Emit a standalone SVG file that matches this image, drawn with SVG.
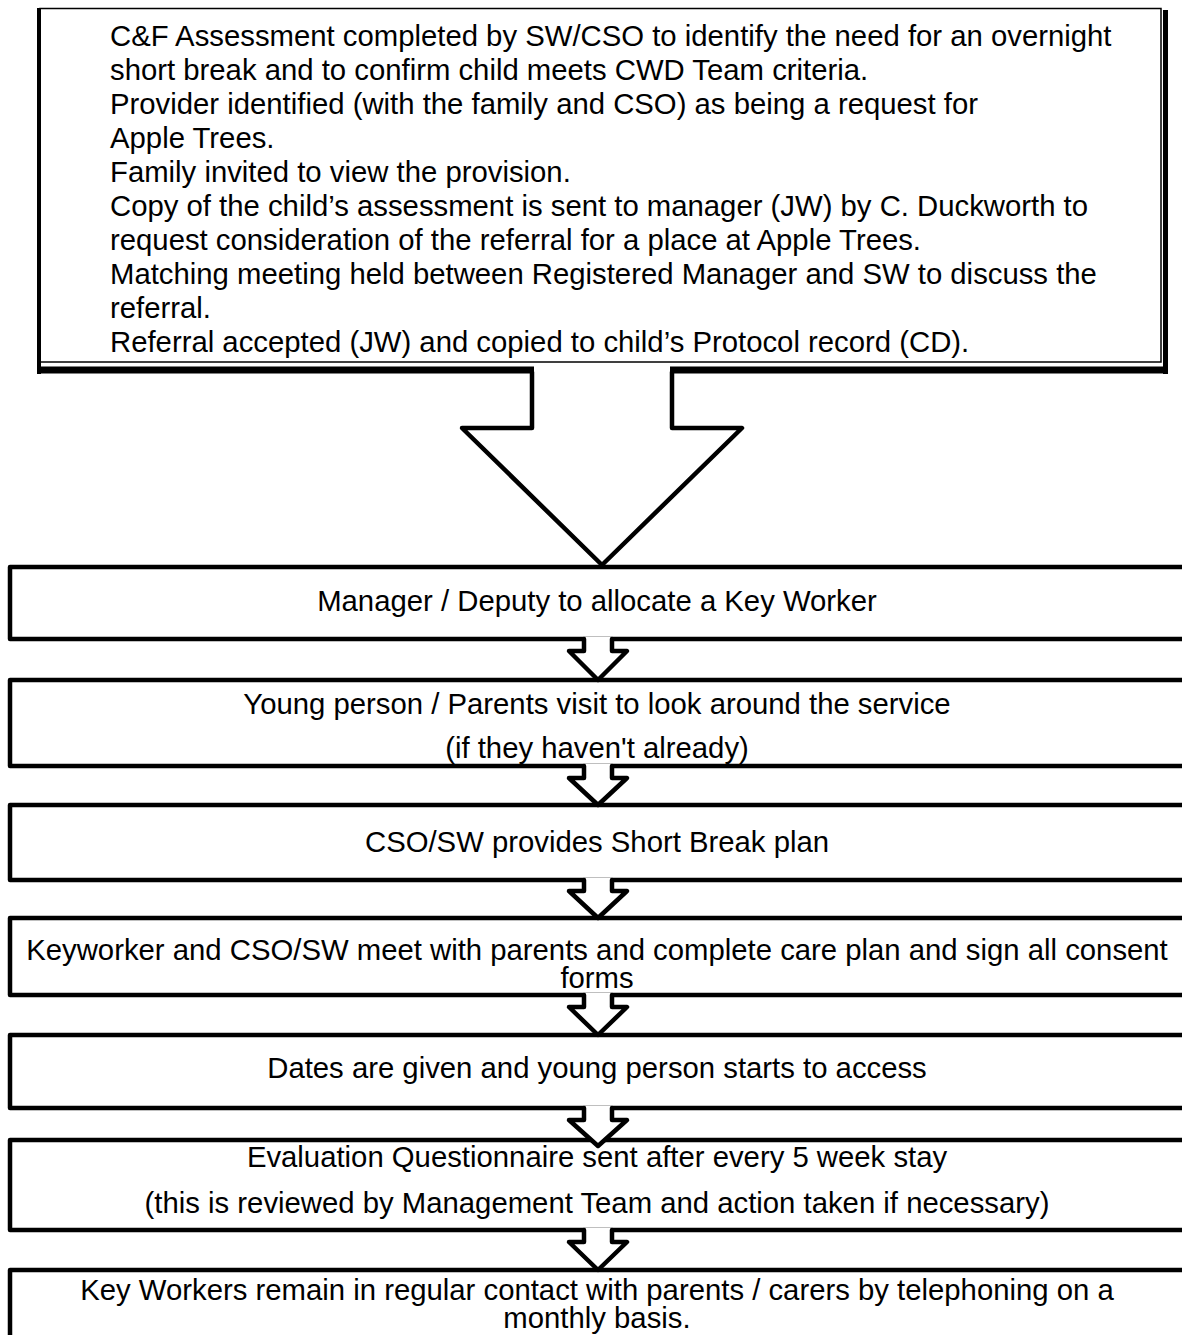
<svg xmlns="http://www.w3.org/2000/svg" width="1182" height="1335" viewBox="0 0 1182 1335">
<style>
text{font-family:"Liberation Sans",Arial,sans-serif;font-size:29.3px;fill:#000}
.c{text-anchor:middle}
.box{fill:#fff;stroke:#000;stroke-width:4.5;stroke-linejoin:round}
.arr{fill:none;stroke:#000;stroke-width:4.5;stroke-linejoin:round;stroke-linecap:round}
.cover{fill:#fff;stroke:none}
</style>
<rect width="1182" height="1335" fill="#fff"/>
<g id="node-top">
<rect x="40" y="8.5" width="1121" height="353.5" fill="#fff" stroke="#000" stroke-width="1.5"/>
<line x1="39" y1="8" x2="39" y2="374" stroke="#000" stroke-width="4"/>
<line x1="1165.5" y1="10" x2="1165.5" y2="374" stroke="#000" stroke-width="5"/>
<line x1="37" y1="370" x2="1168" y2="370" stroke="#000" stroke-width="7"/>
<text x="110" y="46">C&amp;F Assessment completed by SW/CSO to identify the need for an overnight</text>
<text x="110" y="80">short break and to confirm child meets CWD Team criteria.</text>
<text x="110" y="114">Provider identified (with the family and CSO) as being a request for</text>
<text x="110" y="148">Apple Trees.</text>
<text x="110" y="182">Family invited to view the provision.</text>
<text x="110" y="216">Copy of the child’s assessment is sent to manager (JW) by C. Duckworth to</text>
<text x="110" y="250">request consideration of the referral for a place at Apple Trees.</text>
<text x="110" y="284">Matching meeting held between Registered Manager and SW to discuss the</text>
<text x="110" y="318">referral.</text>
<text x="110" y="352">Referral accepted (JW) and copied to child’s Protocol record (CD).</text>
</g>
<g id="node-1">
<rect class="box" x="10" y="567" width="1180" height="72"/>
<text class="c" x="597" y="611">Manager / Deputy to allocate a Key Worker</text>
</g>
<g id="node-2">
<rect class="box" x="10" y="680" width="1180" height="86"/>
<text class="c" x="597" y="714">Young person / Parents visit to look around the service</text>
<text class="c" x="597" y="758">(if they haven't already)</text>
</g>
<g id="node-3">
<rect class="box" x="10" y="805" width="1180" height="75"/>
<text class="c" x="597" y="852">CSO/SW provides Short Break plan</text>
</g>
<g id="node-4">
<rect class="box" x="10" y="918" width="1180" height="77"/>
<text class="c" x="597" y="960">Keyworker and CSO/SW meet with parents and complete care plan and sign all consent</text>
<text class="c" x="597" y="988">forms</text>
</g>
<g id="node-5">
<rect class="box" x="10" y="1035" width="1180" height="73"/>
<text class="c" x="597" y="1078">Dates are given and young person starts to access</text>
</g>
<g id="node-6">
<rect class="box" x="10" y="1140" width="1180" height="90"/>
<text class="c" x="597" y="1167">Evaluation Questionnaire sent after every 5 week stay</text>
<text class="c" x="597" y="1213">(this is reviewed by Management Team and action taken if necessary)</text>
</g>
<g id="node-7">
<rect class="box" x="10" y="1270" width="1180" height="100"/>
<text class="c" x="597" y="1300">Key Workers remain in regular contact with parents / carers by telephoning on a</text>
<text class="c" x="597" y="1328">monthly basis.</text>
</g>
<g id="connectors">
<polygon class="cover" points="534,365 534,428 462,428 602,565 742,428 670,428 670,365"/>
<polyline class="arr" points="532,372 532,428 462,428 602,565 742,428 672,428 672,372"/>
<g id="a1"><polygon class="cover" points="584,637 584,651 569,651 598,680 627,651 612,651 612,637"/><polyline class="arr" points="584,639 584,651 569,651 598,680 627,651 612,651 612,639"/></g>
<g id="a2"><polygon class="cover" points="584,764 584,778 569,778 598,805 627,778 612,778 612,764"/><polyline class="arr" points="584,766 584,778 569,778 598,805 627,778 612,778 612,766"/></g>
<g id="a3"><polygon class="cover" points="584,878 584,891 569,891 598,918 627,891 612,891 612,878"/><polyline class="arr" points="584,880 584,891 569,891 598,918 627,891 612,891 612,880"/></g>
<g id="a4"><polygon class="cover" points="584,993 584,1007 569,1007 598,1035 627,1007 612,1007 612,993"/><polyline class="arr" points="584,995 584,1007 569,1007 598,1035 627,1007 612,1007 612,995"/></g>
<g id="a5"><polygon class="cover" points="584,1106 584,1120 569,1120 598,1146 627,1120 612,1120 612,1106"/><polyline class="arr" points="584,1108 584,1120 569,1120 598,1146 627,1120 612,1120 612,1108"/></g>
<g id="a6"><polygon class="cover" points="584,1228 584,1242 569,1242 598,1270 627,1242 612,1242 612,1228"/><polyline class="arr" points="584,1230 584,1242 569,1242 598,1270 627,1242 612,1242 612,1230"/></g>
</g>
</svg>
